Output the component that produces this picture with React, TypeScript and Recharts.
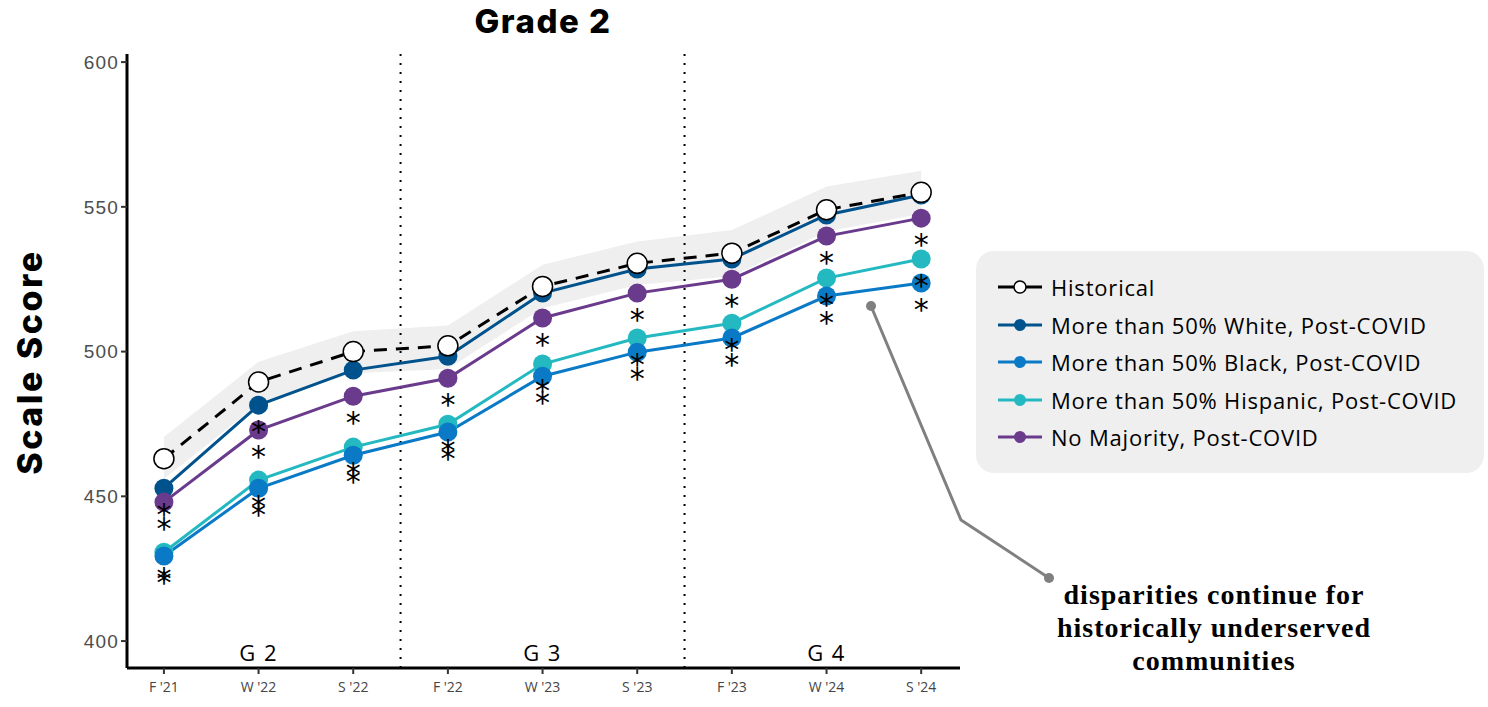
import React from "react";
import {
  ComposedChart,
  Area,
  Line,
  XAxis,
  YAxis,
  ReferenceLine,
  ReferenceDot
} from "recharts";

// x categories (assessment windows)
const categories = ["F '21", "W '22", "S '22", "F '22", "W '23", "S '23", "F '23", "W '24", "S '24"];
const groupLabels = ["G 2", "G 3", "G 4"];
const groupCenters = [1, 4, 7];
const groupBreaks = [2.5, 5.5];
const yTicks = [400, 450, 500, 550, 600];

// series values
const historical = [463, 489.5, 500, 502, 522.5, 530.5, 534, 549, 555];
const histLow = [456, 482, 492.5, 494, 515, 523, 526, 541.5, 547.5];
const histHigh = [470.5, 496.5, 507, 509, 530, 538, 542, 557, 562.5];
const white = [452.8, 481.5, 493.6, 498.4, 520.2, 528.5, 532, 547.2, 554.1];
const black = [429.4, 452.8, 464.2, 472.2, 491.5, 499.8, 504.7, 519.2, 523.7];
const hispanic = [430.7, 455.6, 467, 474.9, 495.7, 504.7, 509.8, 525.4, 532];
const noMajority = [448, 472.9, 484.6, 490.8, 511.6, 520.2, 525, 539.9, 546.1];

// significance flags (asterisk under the point)
const whiteSig = [1, 1, 0, 0, 0, 0, 0, 0, 0];
const blackSig = [1, 1, 1, 1, 1, 1, 1, 1, 1];
const hispanicSig = [1, 1, 1, 1, 1, 1, 1, 1, 1];
const noMajoritySig = [1, 1, 1, 1, 1, 1, 1, 1, 1];

const COLORS = {
  historical: "#000000",
  white: "#00528c",
  black: "#0a7ac7",
  hispanic: "#24b9c1",
  noMajority: "#6a3a8c"
};

const series = [
  { key: "hispanic", name: "More than 50% Hispanic, Post-COVID", values: hispanic, sig: hispanicSig },
  { key: "black", name: "More than 50% Black, Post-COVID", values: black, sig: blackSig },
  { key: "white", name: "More than 50% White, Post-COVID", values: white, sig: whiteSig },
  { key: "noMajority", name: "No Majority, Post-COVID", values: noMajority, sig: noMajoritySig }
];

const legendItems = [
  { key: "historical", name: "Historical" },
  { key: "white", name: "More than 50% White, Post-COVID" },
  { key: "black", name: "More than 50% Black, Post-COVID" },
  { key: "hispanic", name: "More than 50% Hispanic, Post-COVID" },
  { key: "noMajority", name: "No Majority, Post-COVID" }
];

const data = categories.map((c, i) => {
  const row: any = {
    idx: i,
    name: c,
    historical: historical[i],
    band: [histLow[i], histHigh[i]]
  };
  series.forEach(s => {
    row[s.key] = s.values[i];
    row[s.key + "Star"] = s.sig[i] ? s.values[i] : null;
  });
  return row;
});

const renderStar = (props: any) => {
  const { cx, cy, value, index, dataKey } = props;
  if (cx == null || cy == null || value == null) return <g key={`${dataKey}-${index}`} />;
  return (
    <text
      key={`${dataKey}-${index}`}
      x={cx}
      y={cy + 37}
      textAnchor="middle"
      fontFamily="DejaVu Sans"
      fontSize={30}
      fill="#000"
    >
      *
    </text>
  );
};

const font = "'Open Sans', sans-serif";

export default function App() {
  return (
    <div style={{ position: "absolute", left: 0, top: 0, width: 1488, height: 707, background: "#fff" }}>
      <ComposedChart
        width={1488}
        height={707}
        data={data}
        margin={{ top: 54, right: 528, left: 67, bottom: 0 }}
      >
        <XAxis
          dataKey="idx"
          type="number"
          domain={[-0.39, 8.41]}
          ticks={[0, 1, 2, 3, 4, 5, 6, 7, 8]}
          tickFormatter={(v: number) => categories[v]}
          height={39}
          axisLine={{ stroke: "#000", strokeWidth: 3 }}
          tickLine={{ stroke: "#333", strokeWidth: 2 }}
          tickSize={6}
          tickMargin={8}
          tick={{ fill: "#444", fontSize: 14, fontFamily: font }}
          allowDataOverflow
        />
        <YAxis
          type="number"
          domain={[390.7, 602.8]}
          ticks={yTicks}
          width={60}
          axisLine={{ stroke: "#000", strokeWidth: 3 }}
          tickLine={{ stroke: "#333", strokeWidth: 2 }}
          tickSize={6}
          tick={{ fill: "#4d4d4d", fontSize: 19, fontFamily: "'Liberation Sans', Arial", letterSpacing: 1.2 }}
          allowDataOverflow
        />
        {groupBreaks.map(b => (
          <ReferenceLine key={b} x={b} stroke="#000" strokeWidth={2} strokeDasharray="2 7" />
        ))}
        {groupLabels.map((g, i) => (
          <ReferenceDot
            key={g}
            x={groupCenters[i]}
            y={395.9}
            r={0}
            stroke="none"
            fill="none"
            ifOverflow="visible"
            label={{ value: g, position: "center", fill: "#000", fontSize: 22, fontFamily: font, letterSpacing: 1.5 }}
          />
        ))}
        <Area
          dataKey="band"
          stroke="none"
          fill="#efefef"
          fillOpacity={1}
          isAnimationActive={false}
          legendType="none"
        />
        {series.map(s => (
          <Line
            key={s.key}
            dataKey={s.key}
            stroke={COLORS[s.key as keyof typeof COLORS]}
            strokeWidth={3}
            dot={{ r: 9.5, fill: COLORS[s.key as keyof typeof COLORS], stroke: "none" }}
            activeDot={false}
            isAnimationActive={false}
          />
        ))}
        <Line
          dataKey="historical"
          stroke="#000"
          strokeWidth={3}
          strokeDasharray="13 9"
          dot={{ r: 10, fill: "#fff", stroke: "#000", strokeWidth: 1.5, strokeDasharray: "0" }}
          activeDot={false}
          isAnimationActive={false}
        />
        {series.map(s => (
          <Line
            key={s.key + "Star"}
            dataKey={s.key + "Star"}
            stroke="none"
            dot={renderStar}
            activeDot={false}
            legendType="none"
            isAnimationActive={false}
          />
        ))}
      </ComposedChart>

      {/* title, y-axis label and annotation */}
      <svg width={1488} height={707} style={{ position: "absolute", left: 0, top: 0, pointerEvents: "none" }}>
        <text x={543} y={33} textAnchor="middle" fontFamily="Inter, sans-serif" fontWeight={800} fontSize={33} letterSpacing={1.5} fill="#000">
          Grade 2
        </text>
        <text
          transform="translate(42, 362) rotate(-90)"
          textAnchor="middle"
          fontFamily="Inter, sans-serif"
          fontWeight={800}
          fontSize={34}
          letterSpacing={2.5}
          fill="#000"
        >
          Scale Score
        </text>
        <polyline points="871,306 961,520 1049,578" fill="none" stroke="#808080" strokeWidth={3} />
        <circle cx={871} cy={306} r={5} fill="#808080" />
        <circle cx={1049} cy={578} r={5} fill="#808080" />
        <g fontFamily="'Liberation Serif', serif" fontWeight={700} fontSize={28} letterSpacing={1} fill="#000" textAnchor="middle">
          <text x={1214} y={604}>disparities continue for</text>
          <text x={1214} y={637}>historically underserved</text>
          <text x={1214} y={670}>communities</text>
        </g>
      </svg>

      {/* legend */}
      <div
        style={{
          position: "absolute",
          left: 976,
          top: 251,
          width: 508,
          height: 222,
          background: "#efefef",
          borderRadius: 18
        }}
      >
        {legendItems.map((item, i) => (
          <div
            key={item.key}
            style={{
              position: "absolute",
              left: 22,
              top: 36 + i * 37.5 - 14,
              height: 28,
              display: "flex",
              alignItems: "center",
              whiteSpace: "nowrap"
            }}
          >
            <svg width={44} height={16} style={{ marginRight: 9 }}>
              <line x1={0} y1={8} x2={44} y2={8} stroke={COLORS[item.key as keyof typeof COLORS]} strokeWidth={3} />
              {item.key === "historical" ? (
                <circle cx={22} cy={8} r={6} fill="#fff" stroke="#000" strokeWidth={1.5} />
              ) : (
                <circle cx={22} cy={8} r={6} fill={COLORS[item.key as keyof typeof COLORS]} />
              )}
            </svg>
            <span style={{ fontFamily: font, fontSize: 22, letterSpacing: 0.8, color: "#000" }}>{item.name}</span>
          </div>
        ))}
      </div>
    </div>
  );
}
